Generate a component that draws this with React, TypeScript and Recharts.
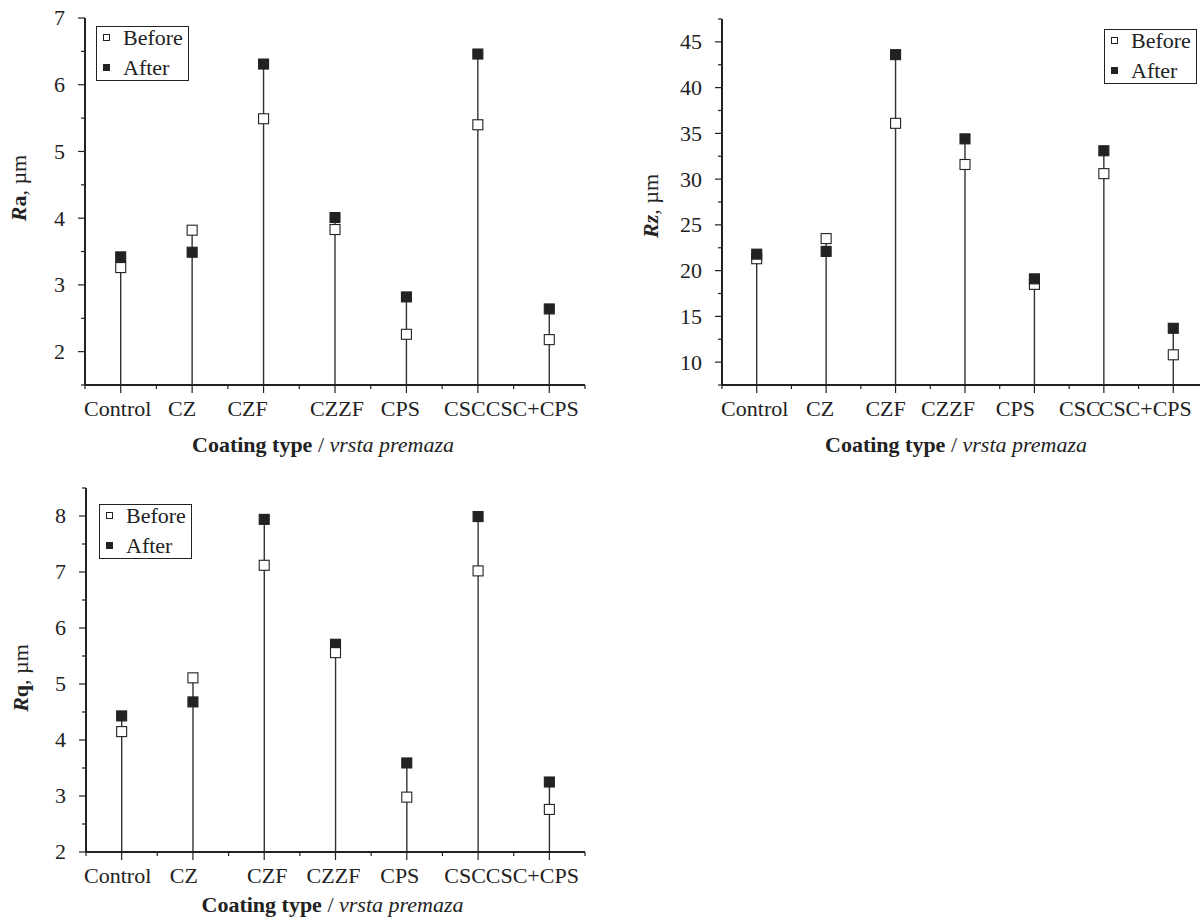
import React from "react";
import { ComposedChart, Bar, Line, XAxis, YAxis, Legend } from "recharts";

const FONT = "'Liberation Serif', 'Times New Roman', serif";
const INK = "#222";

const categories = ["Control", "CZ", "CZF", "CZZF", "CPS", "CSC", "CSC+CPS"];

// roughness values
const raBefore = [3.26, 3.82, 5.49, 3.83, 2.26, 5.4, 2.18];
const raAfter = [3.42, 3.49, 6.31, 4.01, 2.82, 6.46, 2.64];
const rzBefore = [21.3, 23.5, 36.1, 31.6, 18.5, 30.6, 10.8];
const rzAfter = [21.8, 22.1, 43.6, 34.4, 19.1, 33.1, 13.7];
const rqBefore = [4.15, 5.11, 7.12, 5.56, 2.98, 7.02, 2.76];
const rqAfter = [4.43, 4.68, 7.94, 5.71, 3.59, 7.99, 3.25];

const raMajor = [2, 3, 4, 5, 6, 7];
const raMinor = [1.5, 2.5, 3.5, 4.5, 5.5, 6.5];
const rzMajor = [10, 15, 20, 25, 30, 35, 40, 45];
const rzMinor = [7.5, 12.5, 17.5, 22.5, 27.5, 32.5, 37.5, 42.5, 47.5];
const rqMajor = [2, 3, 4, 5, 6, 7, 8];
const rqMinor = [2.5, 3.5, 4.5, 5.5, 6.5, 7.5, 8.5];

const Y_TICK_SIZE = 7;
const Y_TICK_MARGIN = 13;
const X_TICK_SIZE = 8;
const X_TICK_MARGIN = 2;

function buildRows(before: number[], after: number[]) {
  return categories.map((name, i) => ({
    name,
    before: before[i],
    after: after[i],
    stem: Math.max(before[i], after[i]),
  }));
}

const panels = [
  {
    key: "ra",
    left: 0, top: 0, width: 600, height: 460,
    margin: { top: 18, right: 15, left: 0, bottom: 0 },
    yWidth: 85, xHeight: 75,
    domain: [1.5, 7],
    major: raMajor, minor: raMinor,
    rows: buildRows(raBefore, raAfter),
    afterOnTop: false,
    sym: "R", sub: "a", subItalic: false,
    yLabel: { x: 18, y: 188 },
    legend: { left: 96, top: 26 },
    labelShift: [-3, -10, -16, 2, -6, -13, -17],
    title: { dx: -12, dy: 67 },
  },
  {
    key: "rz",
    left: 600, top: 0, width: 620, height: 460,
    margin: { top: 19, right: 12, left: 0, bottom: 0 },
    yWidth: 122, xHeight: 75,
    domain: [7.5, 47.5],
    major: rzMajor, minor: rzMinor,
    rows: buildRows(rzBefore, rzAfter),
    afterOnTop: true,
    sym: "R", sub: "z", subItalic: true,
    yLabel: { x: 50, y: 206 },
    legend: { left: 504, top: 29 },
    labelShift: [-2, -6, -10, -17, -19, -24, -28],
    title: { dx: -9, dy: 67 },
  },
  {
    key: "rq",
    left: 0, top: 460, width: 600, height: 457,
    margin: { top: 28, right: 15, left: 0, bottom: 0 },
    yWidth: 86, xHeight: 65,
    domain: [2, 8.5],
    major: rqMajor, minor: rqMinor,
    rows: buildRows(rqBefore, rqAfter),
    afterOnTop: false,
    sym: "R", sub: "q", subItalic: false,
    yLabel: { x: 20, y: 218 },
    legend: { left: 99, top: 44 },
    labelShift: [-4, -9, 3, -2, -7, -13, -17],
    title: { dx: -3, dy: 60 },
  },
];

function YTick(props: any) {
  const { x, y, payload, major } = props;
  const axisX = x + Y_TICK_SIZE + Y_TICK_MARGIN;
  const isMajor = major.includes(payload.value);
  return (
    <g>
      <line x1={axisX - (isMajor ? Y_TICK_SIZE : 4)} x2={axisX} y1={y} y2={y} stroke={INK} strokeWidth={1.2} />
      {isMajor && (
        <text x={axisX - 20} y={y} dy="0.34em" textAnchor="end" fontFamily={FONT} fontSize={22} fill={INK}>
          {payload.value}
        </text>
      )}
    </g>
  );
}

function XTick(props: any) {
  const { x, y, payload, index, shift, half } = props;
  const axisY = y - X_TICK_SIZE - X_TICK_MARGIN;
  const h = typeof payload.offset === "number" && payload.offset > 0 ? payload.offset : half;
  const last = index === categories.length - 1;
  return (
    <g>
      <line x1={x} x2={x} y1={axisY} y2={axisY + X_TICK_SIZE} stroke={INK} strokeWidth={1.2} />
      <line x1={x - h} x2={x - h} y1={axisY} y2={axisY + 4} stroke={INK} strokeWidth={1.2} />
      {last && <line x1={x + h} x2={x + h} y1={axisY} y2={axisY + 4} stroke={INK} strokeWidth={1.2} />}
      <text x={x + (shift[index] || 0)} y={axisY + 31} textAnchor="middle" fontFamily={FONT} fontSize={22} fill={INK}>
        {payload.value}
      </text>
    </g>
  );
}

function squareDot(filled: boolean) {
  return (p: any) => {
    if (p.cx == null || p.cy == null) return <g key={`e-${p.index}`} />;
    return (
      <rect
        key={`${filled ? "a" : "b"}-${p.index}`}
        x={p.cx - 5}
        y={p.cy - 5}
        width={10}
        height={10}
        fill={filled ? INK : "#fff"}
        stroke={INK}
        strokeWidth={1.1}
      />
    );
  };
}

function LegendBox() {
  return (
    <div
      style={{
        position: "relative",
        width: 93,
        height: 55,
        border: `1px solid ${INK}`,
        boxSizing: "border-box",
        background: "#fff",
        fontFamily: FONT,
        fontSize: 22,
        color: INK,
      }}
    >
      <span style={{ position: "absolute", left: 6, top: 7, width: 7, height: 7, border: `1px solid ${INK}`, boxSizing: "border-box", background: "#fff" }} />
      <span style={{ position: "absolute", left: 26, top: 0, lineHeight: "22px" }}>Before</span>
      <span style={{ position: "absolute", left: 6, top: 37, width: 7, height: 7, background: INK }} />
      <span style={{ position: "absolute", left: 26, top: 30, lineHeight: "22px" }}>After</span>
    </div>
  );
}

function Panel({ cfg }: { cfg: (typeof panels)[number] }) {
  const plotWidth = cfg.width - cfg.margin.left - cfg.margin.right - cfg.yWidth;
  const half = plotWidth / categories.length / 2;
  const ticks = [...cfg.major, ...cfg.minor].sort((a, b) => a - b);
  const plotTop = cfg.margin.top;
  const plotBottom = cfg.height - cfg.xHeight;

  const beforeLine = (
    <Line key="before" dataKey="before" stroke="none" dot={squareDot(false)} activeDot={false} isAnimationActive={false} legendType="none" />
  );
  const afterLine = (
    <Line key="after" dataKey="after" stroke="none" dot={squareDot(true)} activeDot={false} isAnimationActive={false} legendType="none" />
  );

  return (
    <div style={{ position: "absolute", left: cfg.left, top: cfg.top }}>
      <ComposedChart width={cfg.width} height={cfg.height} data={cfg.rows} margin={cfg.margin}>
        <XAxis
          dataKey="name"
          type="category"
          interval={0}
          height={cfg.xHeight}
          tickSize={X_TICK_SIZE}
          tickMargin={X_TICK_MARGIN}
          tickLine={false}
          axisLine={{ stroke: INK, strokeWidth: 2 }}
          tick={(p: any) => <XTick {...p} shift={cfg.labelShift} half={half} />}
          label={{
            content: (lp: any) => {
              const vb = lp.viewBox || {};
              const cx = (vb.x ?? cfg.yWidth) + (vb.width ?? plotWidth) / 2 + cfg.title.dx;
              const y = (vb.y ?? plotBottom) + cfg.title.dy;
              return (
                <text x={cx} y={y} textAnchor="middle" fontFamily={FONT} fontSize={22} fill={INK}>
                  <tspan fontWeight="bold">Coating type </tspan>
                  <tspan>/ </tspan>
                  <tspan fontStyle="italic">vrsta premaza</tspan>
                </text>
              );
            },
          }}
        />
        <XAxis xAxisId="top" orientation="top" dataKey="name" height={0} tick={false} tickLine={false} axisLine={{ stroke: "#555", strokeWidth: 1 }} />
        <YAxis
          type="number"
          domain={cfg.domain}
          ticks={ticks}
          interval={0}
          allowDataOverflow
          width={cfg.yWidth}
          tickSize={Y_TICK_SIZE}
          tickMargin={Y_TICK_MARGIN}
          tickLine={false}
          axisLine={{ stroke: INK, strokeWidth: 2 }}
          tick={(p: any) => <YTick {...p} major={cfg.major} />}
          label={{
            content: () => (
              <text
                x={cfg.yLabel.x}
                y={cfg.yLabel.y}
                transform={`rotate(-90, ${cfg.yLabel.x}, ${cfg.yLabel.y})`}
                textAnchor="middle"
                dominantBaseline="central"
                fontFamily={FONT}
                fontSize={22}
                fill={INK}
              >
                <tspan fontWeight="bold" fontStyle="italic">{cfg.sym}</tspan>
                <tspan fontWeight="bold" fontStyle={cfg.subItalic ? "italic" : "normal"}>{cfg.sub}</tspan>
                <tspan>, µm</tspan>
              </text>
            ),
          }}
        />
        <YAxis yAxisId="right" orientation="right" type="number" domain={cfg.domain} allowDataOverflow width={0} tick={false} tickLine={false} axisLine={{ stroke: "#555", strokeWidth: 1 }} />
        <Bar dataKey="stem" barSize={1.4} fill="#333" isAnimationActive={false} legendType="none" />
        {cfg.afterOnTop ? [beforeLine, afterLine] : [afterLine, beforeLine]}
        <Legend
          layout="vertical"
          align="center"
          verticalAlign="middle"
          content={() => <LegendBox />}
          wrapperStyle={{ left: cfg.legend.left, top: cfg.legend.top, width: 93, height: 55 }}
        />
      </ComposedChart>
      <span style={{ display: "none" }}>{plotTop}</span>
    </div>
  );
}

export default function App() {
  return (
    <div
      style={{
        position: "absolute",
        left: 0,
        top: 0,
        width: 1200,
        height: 917,
        overflow: "hidden",
        background: "#fff",
        fontFamily: FONT,
      }}
    >
      {panels.map((cfg) => (
        <Panel key={cfg.key} cfg={cfg} />
      ))}
    </div>
  );
}
